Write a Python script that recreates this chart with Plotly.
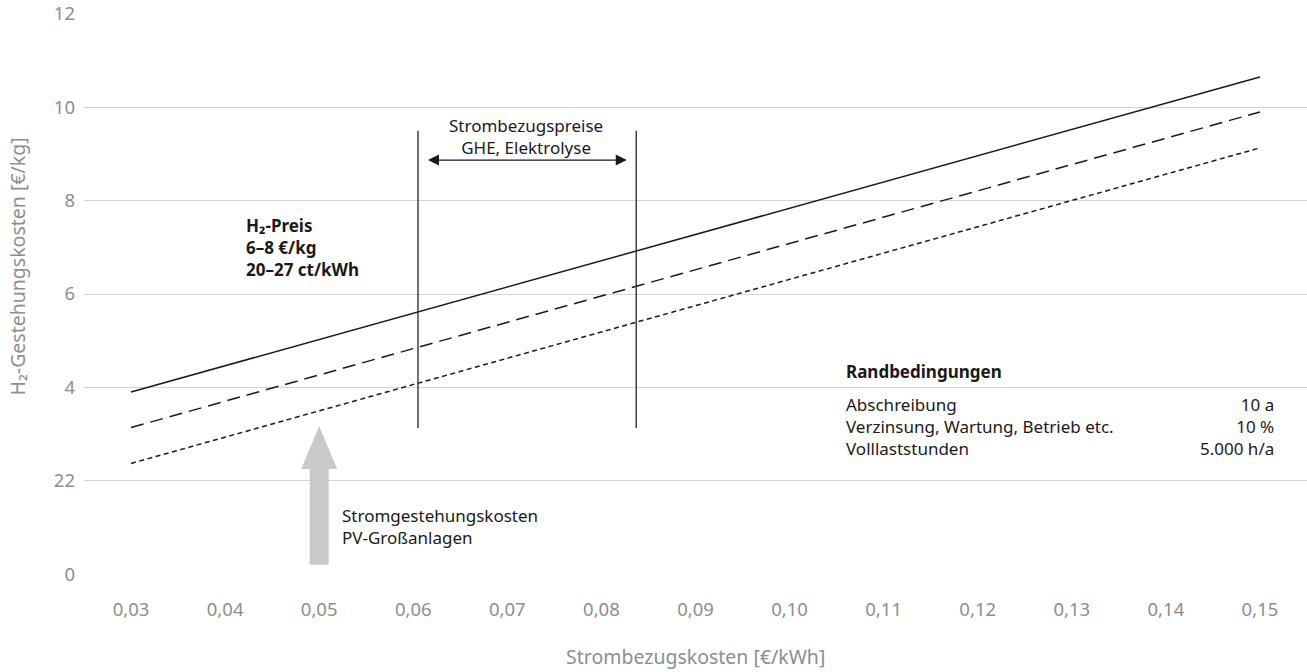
import plotly.graph_objects as go

# Strombezugskosten [€/kWh] at the two ends of each cost line
x_ends = [0.03, 0.15]
# H2-Gestehungskosten [€/kg] for the three scenarios (solid, dashed, dotted)
h2_solid = [3.90, 10.65]
h2_dashed = [3.14, 9.90]
h2_dotted = [2.37, 9.13]

# Range of purchase prices (GHE, Elektrolyse) and the vertical extent of its markers
price_range_x = [0.0605, 0.0837]
price_range_y = [3.13, 9.50]
price_arrow_x = [0.0614, 0.0827]
price_arrow_y = 8.87

# Stromgestehungskosten PV-Großanlagen arrow
pv_x = 0.05
pv_y = [0.20, 3.17]

# Axis ticks
x_tickvals = [0.03, 0.04, 0.05, 0.06, 0.07, 0.08, 0.09, 0.10, 0.11, 0.12, 0.13, 0.14, 0.15]
x_ticktext = ["0,03", "0,04", "0,05", "0,06", "0,07", "0,08", "0,09", "0,10",
              "0,11", "0,12", "0,13", "0,14", "0,15"]
y_tickvals = [0, 2, 4, 6, 8, 10, 12]
y_ticktext = ["0", "22", "4", "6", "8", "10", "12"]

# Boundary conditions table
rb_labels = ["Abschreibung", "Verzinsung, Wartung, Betrieb etc.", "Volllaststunden"]
rb_values = ["10 a", "10 %", "5.000 h/a"]

FONT = "Noto Sans"
INK = "#1a1a1a"
MUTED = "#8e8e8e"
GRID = "#d4d4d4"
BODY = 17

fig = go.Figure()

for ys, dash in [(h2_solid, "solid"), (h2_dashed, "13px,7px"), (h2_dotted, "5px,3.5px")]:
    fig.add_trace(go.Scatter(x=x_ends, y=ys, mode="lines",
                             line=dict(color=INK, width=1.5, dash=dash),
                             hoverinfo="skip", showlegend=False))

for xv in price_range_x:
    fig.add_trace(go.Scatter(x=[xv, xv], y=price_range_y, mode="lines",
                             line=dict(color="#333333", width=1.4),
                             hoverinfo="skip", showlegend=False))

# Double-headed arrow between the two price markers
fig.add_annotation(x=price_arrow_x[1], y=price_arrow_y, ax=price_arrow_x[0], ay=price_arrow_y,
                   xref="x", yref="y", axref="x", ayref="y", text="",
                   showarrow=True, arrowside="end+start", arrowhead=2,
                   arrowsize=1.7, arrowwidth=1.3, arrowcolor=INK)

# Broad grey arrow for PV generation costs (shaft/head widths in pixels around x)
shaft_half, head_half = 9.5, 18
head_len = 0.92  # in y units
y0, y1 = pv_y
yb = y1 - head_len
fig.add_shape(type="path", xref="x", yref="y", xsizemode="pixel", xanchor=pv_x,
              path=(f"M {-shaft_half},{y0} L {shaft_half},{y0} L {shaft_half},{yb} "
                    f"L {head_half},{yb} L 0,{y1} L {-head_half},{yb} L {-shaft_half},{yb} Z"),
              fillcolor="#c8c9cb", line=dict(width=0), layer="above")


def note(lines, x, y, size=BODY, bold=False, xanchor="left", color=INK):
    text = "<br>".join(f"<b>{l}</b>" if bold else l for l in lines)
    fig.add_annotation(x=x, y=y, xref="x", yref="y", text=text, showarrow=False,
                       xanchor=xanchor, yanchor="middle",
                       align=xanchor if xanchor != "center" else "center",
                       borderpad=0, font=dict(family=FONT, size=size, color=color))


# Price-range label
note(["Strombezugspreise", "GHE, Elektrolyse"], 0.0720, 9.38, xanchor="center")

# H2 price box
note(["H₂-Preis", "6–8 €/kg", "20–27 ct/kWh"], 0.0421, 6.99, bold=True)

# PV label
note(["Stromgestehungskosten", "PV-Großanlagen"], 0.0523, 1.02)

# Boundary conditions
note(["Randbedingungen"], 0.1059, 4.35, bold=True)
note(rb_labels, 0.1059, 3.17)
note(rb_values, 0.1516, 3.17, xanchor="right")

# Axis titles
fig.add_annotation(x=0.09, y=-0.145, xref="x", yref="paper", text="Strombezugskosten [€/kWh]",
                   showarrow=False, xanchor="center", yanchor="middle",
                   font=dict(family=FONT, size=19.5, color=MUTED))
fig.add_annotation(x=-0.054, y=0.549, xref="paper", yref="paper",
                   text="H₂-Gestehungskosten [€/kg]", textangle=-90,
                   showarrow=False, xanchor="center", yanchor="middle",
                   font=dict(family=FONT, size=19.5, color=MUTED))

fig.update_layout(
    width=1307, height=672,
    margin=dict(l=84, r=0, t=13, b=97),
    paper_bgcolor="white", plot_bgcolor="white",
    font=dict(family=FONT, size=18, color=MUTED),
    xaxis=dict(range=[0.025, 0.155], tickvals=x_tickvals, ticktext=x_ticktext,
               showgrid=False, zeroline=False, showline=False, ticks="",
               ticklabelstandoff=21, tickfont=dict(size=18.5, color=MUTED)),
    yaxis=dict(range=[-0.02, 12.02], tickvals=y_tickvals, ticktext=y_ticktext,
               showgrid=True, gridcolor=GRID, gridwidth=1.3, zeroline=False,
               showline=False, ticks="", ticklabelstandoff=8,
               tickfont=dict(size=18.5, color=MUTED)),
)

fig.write_html("out.html")
